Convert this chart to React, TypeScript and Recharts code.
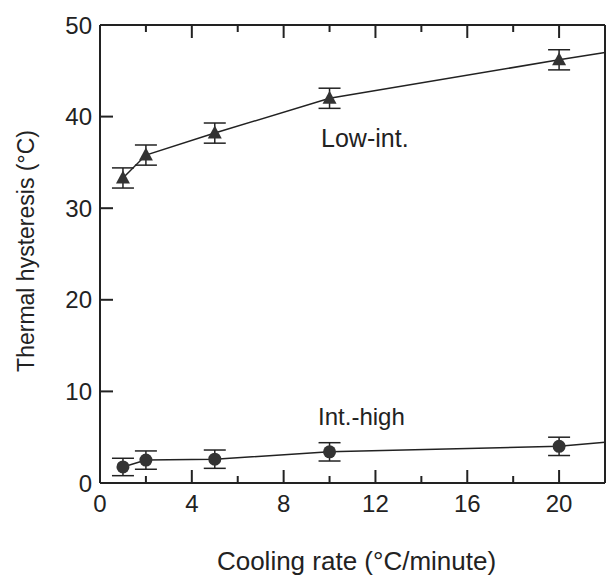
import React from 'react';
import { ComposedChart, Line, XAxis, YAxis, ErrorBar, ReferenceDot } from 'recharts';

// cooling rate (°C/minute)
const coolingRates = [1, 2, 5, 10, 20, 22];
// Low-int. transition hysteresis (°C); the last value is where the fitted line leaves the frame
const lowIntValues = [33.3, 35.8, 38.2, 42.0, 46.2, 47.0];
const lowIntErrors = [1.1, 1.1, 1.1, 1.1, 1.1, null];
// Int.-high transition hysteresis (°C)
const intHighValues = [1.75, 2.5, 2.6, 3.4, 4.0, 4.45];
const intHighErrors = [0.95, 1.0, 1.0, 1.0, 1.0, null];

const xTicks = [0, 2, 4, 6, 8, 10, 12, 14, 16, 18, 20];
const yTicks = [0, 10, 20, 30, 40, 50];

const INK = '#222';
const FONT = '"Liberation Sans", Arial, sans-serif';

const data = coolingRates.map((rate, i) => ({
    rate,
    low: lowIntValues[i],
    lowErr: lowIntErrors[i],
    high: intHighValues[i],
    highErr: intHighErrors[i],
}));

const isMajor = (v: number) => v % 4 === 0;

const BottomTick = (props: any) => {
    const { x, y, payload } = props;
    const v = payload.value;
    const axisY = y - 12;
    const len = isMajor(v) ? 13 : 7;
    return (
        <g>
            {v !== 0 && <line x1={x} x2={x} y1={axisY} y2={axisY - len} stroke={INK} strokeWidth={2} />}
            {isMajor(v) && (
                <text x={x} y={y} dy="0.71em" textAnchor="middle" fontSize={24} fill={INK} fontFamily={FONT}>
                    {v}
                </text>
            )}
        </g>
    );
};

const TopTick = (props: any) => {
    const { x, y, payload } = props;
    const v = payload.value;
    if (v === 0) return <g />;
    const len = isMajor(v) ? 13 : 7;
    return <line x1={x} x2={x} y1={y} y2={y + len} stroke={INK} strokeWidth={2} />;
};

const LeftTick = (props: any) => {
    const { x, y, payload } = props;
    const v = payload.value;
    const axisX = x + 8;
    return (
        <g>
            {v !== 0 && v !== 50 && <line x1={axisX} x2={axisX + 13} y1={y} y2={y} stroke={INK} strokeWidth={2} />}
            <text x={x} y={y} dy="0.355em" textAnchor="end" fontSize={24} fill={INK} fontFamily={FONT}>
                {v}
            </text>
        </g>
    );
};

const RightTick = (props: any) => {
    const { x, y, payload } = props;
    const v = payload.value;
    if (v === 0 || v === 50) return <g />;
    return <line x1={x} x2={x - 13} y1={y} y2={y} stroke={INK} strokeWidth={2} />;
};

const TriangleDot = (props: any) => {
    const { cx, cy, payload, index } = props;
    if (payload.rate > 20 || cx == null) return <g key={`t${index}`} />;
    return <path key={`t${index}`} d={`M${cx},${cy - 7.5} L${cx + 7},${cy + 5.5} L${cx - 7},${cy + 5.5} Z`} fill="#333" />;
};

const CircleDot = (props: any) => {
    const { cx, cy, payload, index } = props;
    if (payload.rate > 20 || cx == null) return <g key={`c${index}`} />;
    return <circle key={`c${index}`} cx={cx} cy={cy} r={6.5} fill="#333" />;
};

const YLabel = (props: any) => {
    const vb = props.viewBox;
    const cy = vb.y + vb.height / 2 - 3;
    return (
        <text x={26} y={cy} transform={`rotate(-90 26 ${cy})`} textAnchor="middle" dominantBaseline="central"
            fontSize={23} fill={INK} fontFamily={FONT}>
            Thermal hysteresis (°C)
        </text>
    );
};

export default function App() {
    return (
        <div style={{ position: 'absolute', left: 0, top: 0, background: '#fff' }}>
            <ComposedChart width={606} height={580} data={data} margin={{ top: 24, right: 0, left: 0, bottom: 37 }}>
                <XAxis
                    dataKey="rate"
                    type="number"
                    domain={[0, 22]}
                    ticks={xTicks}
                    interval={0}
                    height={60}
                    tickSize={0}
                    tickMargin={12}
                    tickLine={false}
                    tick={<BottomTick />}
                    axisLine={{ stroke: INK, strokeWidth: 2 }}
                    label={{ value: 'Cooling rate (°C/minute)', position: 'bottom', offset: 9, dx: 4, fontSize: 26, fill: INK, fontFamily: FONT }}
                />
                <XAxis
                    xAxisId="top"
                    orientation="top"
                    dataKey="rate"
                    type="number"
                    domain={[0, 22]}
                    ticks={xTicks}
                    interval={0}
                    height={1}
                    tickSize={0}
                    tickMargin={0}
                    tickLine={false}
                    tick={<TopTick />}
                    axisLine={{ stroke: INK, strokeWidth: 2 }}
                />
                <YAxis
                    type="number"
                    domain={[0, 50]}
                    ticks={yTicks}
                    interval={0}
                    width={100}
                    tickSize={0}
                    tickMargin={8}
                    tickLine={false}
                    tick={<LeftTick />}
                    axisLine={{ stroke: INK, strokeWidth: 2 }}
                    label={{ content: <YLabel /> }}
                />
                <YAxis
                    yAxisId="right"
                    orientation="right"
                    type="number"
                    domain={[0, 50]}
                    ticks={yTicks}
                    interval={0}
                    width={1}
                    tickSize={0}
                    tickMargin={0}
                    tickLine={false}
                    tick={<RightTick />}
                    axisLine={{ stroke: INK, strokeWidth: 2 }}
                />
                <Line
                    type="linear"
                    dataKey="low"
                    stroke={INK}
                    strokeWidth={1.5}
                    dot={<TriangleDot />}
                    activeDot={false}
                    isAnimationActive={false}
                >
                    <ErrorBar dataKey="lowErr" width={11} stroke={INK} strokeWidth={1.5} direction="y" />
                </Line>
                <Line
                    type="linear"
                    dataKey="high"
                    stroke={INK}
                    strokeWidth={1.5}
                    dot={<CircleDot />}
                    activeDot={false}
                    isAnimationActive={false}
                >
                    <ErrorBar dataKey="highErr" width={11} stroke={INK} strokeWidth={1.5} direction="y" />
                </Line>
                <ReferenceDot x={9.63} y={37.7} r={0} fill="none" stroke="none"
                    label={{ value: 'Low-int.', position: 'right', offset: 0, fontSize: 25, fill: INK, fontFamily: FONT }} />
                <ReferenceDot x={9.5} y={7.3} r={0} fill="none" stroke="none"
                    label={{ value: 'Int.-high', position: 'right', offset: 0, fontSize: 24, fill: INK, fontFamily: FONT }} />
            </ComposedChart>
        </div>
    );
}
